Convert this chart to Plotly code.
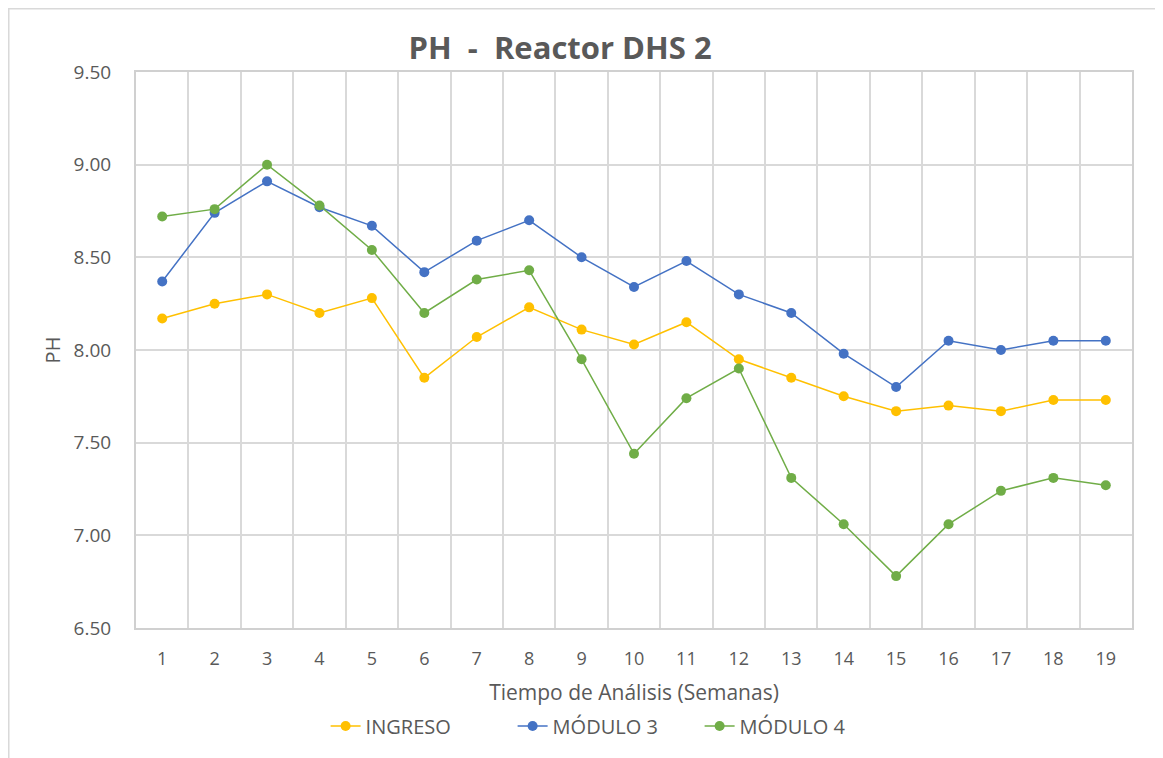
import plotly.graph_objects as go

semanas = [str(i) for i in range(1, 20)]

ingreso = [8.17, 8.25, 8.30, 8.20, 8.28, 7.85, 8.07, 8.23, 8.11, 8.03,
           8.15, 7.95, 7.85, 7.75, 7.67, 7.70, 7.67, 7.73, 7.73]
modulo3 = [8.37, 8.74, 8.91, 8.77, 8.67, 8.42, 8.59, 8.70, 8.50, 8.34,
           8.48, 8.30, 8.20, 7.98, 7.80, 8.05, 8.00, 8.05, 8.05]
modulo4 = [8.72, 8.76, 9.00, 8.78, 8.54, 8.20, 8.38, 8.43, 7.95, 7.44,
           7.74, 7.90, 7.31, 7.06, 6.78, 7.06, 7.24, 7.31, 7.27]

yticks = [6.5, 7.0, 7.5, 8.0, 8.5, 9.0, 9.5]

series = [
    ("INGRESO", ingreso, "#FFC000"),
    ("MÓDULO 3", modulo3, "#4472C4"),
    ("MÓDULO 4", modulo4, "#70AD47"),
]

FONT = "Open Sans, Noto Sans, sans-serif"
GREY = "#595959"

fig = go.Figure()
for name, vals, col in series:
    fig.add_trace(go.Scatter(
        x=semanas, y=vals, name=name, mode="lines+markers",
        line=dict(color=col, width=1.5),
        marker=dict(color=col, size=10),
    ))

# page has an 8px body margin, so the figure is sized to fit inside it
fig.update_layout(
    width=1155, height=750,
    paper_bgcolor="white", plot_bgcolor="white",
    margin=dict(l=128, r=31, t=64, b=130),
    font=dict(family=FONT, color=GREY, size=18),
    title=dict(text="<b>PH  -  Reactor DHS 2</b>", x=0.478, xanchor="center",
               xref="container", y=0.9467, yanchor="middle", yref="container",
               font=dict(size=31, color=GREY, family=FONT)),
    legend=dict(orientation="h", x=0.472, xanchor="center", y=-0.1763,
                yanchor="middle", font=dict(size=20, color=GREY),
                entrywidth=142, tracegroupgap=0),
    showlegend=True,
)

fig.update_xaxes(
    type="category", range=[-0.5, 18.5], tickson="boundaries",
    showgrid=True, gridcolor="#D9D9D9", gridwidth=2,
    showline=True, linecolor="#D0D0D0", linewidth=2, mirror=True,
    ticks="", ticklabelstandoff=13,
    tickfont=dict(size=18, color=GREY),
    title=dict(text="Tiempo de Análisis (Semanas)", font=dict(size=21, color=GREY),
               standoff=17),
)
fig.update_yaxes(
    range=[6.5, 9.5], tickvals=yticks, tickformat=".2f",
    showgrid=True, gridcolor="#D9D9D9", gridwidth=2, zeroline=False,
    showline=True, linecolor="#D0D0D0", linewidth=2, mirror=True,
    ticks="outside", ticklen=19, tickcolor="rgba(0,0,0,0)",
    tickfont=dict(size=19, color=GREY),
    title=dict(text="PH", font=dict(size=20, color=GREY), standoff=8),
)

# outer chart border
fig.add_shape(type="rect", xref="paper", yref="paper",
              x0=-0.128, x1=1.0281, y0=-0.3, y1=1.1142,
              line=dict(color="#D9D9D9", width=2), fillcolor="rgba(0,0,0,0)",
              layer="below")

fig.write_html("out.html")
